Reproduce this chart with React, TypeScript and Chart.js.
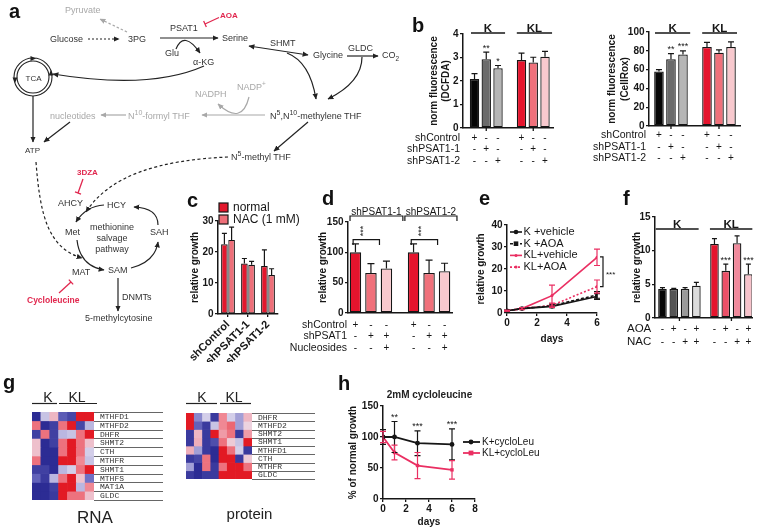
import React, { useEffect, useRef } from "react";
import { Chart, registerables } from "chart.js";

Chart.register(...registerables);

const FONT = "'Liberation Sans', Arial, Helvetica, sans-serif";
const MONO = "'Liberation Mono', 'DejaVu Sans Mono', monospace";
const INK = "#161616";
const PINK = "#ea2f62";
const INHIBIT = "#e1284f";
Chart.defaults.font.family = FONT;

/* ===================== DATA ===================== */
// b : ROS (DCFDA / CellRox)
const bRowNames = ["shControl", "shPSAT1-1", "shPSAT1-2"];
const bGroupNames = ["K", "KL"];
const bPositions = [0, 1, 2, 4, 5, 6];
const bSigns = [
  ["+", "-", "-"], ["-", "+", "-"], ["-", "-", "+"],
  ["+", "-", "-"], ["-", "+", "-"], ["-", "-", "+"],
];
const bColors = ["#060606", "#6b6b6b", "#b6b6b6", "#e5142d", "#f0717b", "#f8c9ce"];
const dcfdaValues = [2.09, 2.93, 2.54, 2.89, 2.79, 3.03];
const dcfdaErrors = [0.22, 0.3, 0.12, 0.3, 0.22, 0.23];
const dcfdaStars = ["", "**", "*", "", "", ""];
const dcfdaAxis = { min: 0, max: 4, step: 1 };
const cellroxValues = [58, 71, 76, 84, 78, 84];
const cellroxErrors = [2, 6, 4, 5, 3, 5.5];
const cellroxStars = ["", "**", "***", "", "", ""];
const cellroxAxis = { min: 0, max: 100, step: 20 };

// c : NAC rescue
const cCategories = ["shControl", "shPSAT1-1", "shPSAT1-2"];
const cSeriesNames = ["normal", "NAC (1 mM)"];
const cNormal = [22.5, 16.3, 15.5];
const cNormalErr = [3.5, 1.6, 5.2];
const cNAC = [23.9, 15.9, 12.6];
const cNACErr = [4.1, 1.1, 2.0];
const cColors = ["#e3172c", "#ee6f79"];
const cAxis = { min: 0, max: 30, step: 10 };

// d : nucleosides
const dRowNames = ["shControl", "shPSAT1", "Nucleosides"];
const dGroupNames = ["shPSAT1-1", "shPSAT1-2"];
const dPositions = [0, 1, 2, 3.75, 4.75, 5.75];
const dSigns = [
  ["+", "-", "-"], ["-", "+", "-"], ["-", "+", "+"],
  ["+", "-", "-"], ["-", "+", "-"], ["-", "+", "+"],
];
const dValues = [100, 66, 73.5, 100, 66, 69];
const dErrors = [14, 15.5, 12, 14, 21, 13];
const dColors = ["#e5142d", "#f0717b", "#f8c9ce", "#e5142d", "#f0717b", "#f8c9ce"];
const dAxis = { min: 0, max: 150, step: 50 };

// e : AOA growth
const eDays = [0, 1, 3, 6];
const eSeriesNames = ["K +vehicle", "K +AOA", "KL+vehicle", "KL+AOA"];
const eKVehicle = [1, 2, 3, 7.5];
const eKVehicleErr = [0.3, 0.4, 0.6, 1.3];
const eKAOA = [1, 2, 3.3, 8.2];
const eKAOAErr = [0.2, 0.3, 0.8, 1.5];
const eKLVehicle = [1, 2, 7.9, 25.3];
const eKLVehicleErr = [0.2, 0.5, 4.8, 3.7];
const eKLAOA = [1, 2, 3.5, 12];
const eKLAOAErr = [0.2, 0.4, 1, 3];
const eXAxis = { min: 0, max: 6, step: 2 };
const eYAxis = { min: 0, max: 40, step: 10 };

// f : AOA + NAC
const fRowNames = ["AOA", "NAC"];
const fGroupNames = ["K", "KL"];
const fPositions = [0, 1, 2, 3, 4.6, 5.6, 6.6, 7.6];
const fSigns = [["-", "-"], ["+", "-"], ["-", "+"], ["+", "+"], ["-", "-"], ["+", "-"], ["-", "+"], ["+", "+"]];
const fValues = [4.3, 4.3, 4.3, 4.8, 11, 7, 11.1, 6.5];
const fErrors = [0.2, 0.1, 0.2, 0.5, 0.8, 1, 1.1, 1.5];
const fStars = ["", "", "", "", "", "***", "", "***"];
const fColors = ["#060606", "#555555", "#9a9a9a", "#dcdcdc", "#e5142d", "#ec5068", "#f08a9c", "#f7c3cb"];
const fAxis = { min: 0, max: 15, step: 5 };

// g : heatmaps
const rnaGenes = ["MTHFD1", "MTHFD2", "DHFR", "SHMT2", "CTH", "MTHFR", "SHMT1", "MTHFS", "MAT1A", "GLDC"];
const rnaValues = [
  [-2, -0.3, 0.5, -1.3, -1.6, 2, 2],
  [1.2, -2, -1.7, 1.2, 2, -1.6, -0.4],
  [-1.7, 1.2, -1.7, -0.4, -0.3, 1.2, 2],
  [0.4, -2, -1.7, 1.2, 2, 1.2, 0.4],
  [0.4, -2, -2, 1.2, 2, 1.2, -0.2],
  [1.2, -2, -2, 2, 2, 1, -0.3],
  [-1.7, -1.7, -2, -0.4, -0.2, 1.2, 2],
  [-1.2, -1.8, -0.4, 1.2, 2, 0.4, -1],
  [-2, -2, -1.7, 2, 2, -0.4, 1],
  [-2, -2, -1.8, 2, 1.2, 1.2, 0.4],
];
const proteinGenes = ["DHFR", "MTHFD2", "SHMT2", "SHMT1", "MTHFD1", "CTH", "MTHFR", "GLDC"];
const proteinValues = [
  [2, -0.8, -0.2, -1.8, 1, -0.2, -0.6, 0.5],
  [2, -1.2, -1.8, -0.3, 1, 1.3, -0.6, 0.2],
  [-1.8, 0.5, -1.8, 2, 0.8, 1.2, -1.8, 0.8],
  [-1.8, 0.6, -1.8, -1.5, 1.2, 0.3, -0.3, 2],
  [0.6, -0.6, -1.8, -2, 2, 1.2, -0.2, -1.8],
  [-1.8, -1.6, 1.2, -2, 2, 2, -1.8, 0.3],
  [-0.6, -2, 1.2, -1.8, 1.2, 2, 2, 1.2],
  [-1.8, -2, -1.8, -1.8, 2, 2, 2, 2],
];

// h : cycloleucine
const hDays = [0, 1, 3, 6];
const hSeriesNames = ["K+cycloLeu", "KL+cycloLeu"];
const hK = [100, 100, 90, 88];
const hKErr = [12, 25, 20, 25];
const hKL = [100, 75, 54, 47];
const hKLErr = [9, 12, 21, 15];
const hStars = ["", "**", "***", "***"];
const hXAxis = { min: 0, max: 8, step: 2 };
const hYAxis = { min: 0, max: 150, step: 50 };

/* ===================== HELPERS ===================== */
type Geo = { L: number; T: number; W: number; H: number; px0: number; py0: number; px1: number; py1: number };

function geoLayout(g: Geo) {
  const left = g.px0 - g.L, top = g.py0 - g.T, right = g.px1 - g.L, bottom = g.py1 - g.T;
  return { padding: { left: 0, top, right: g.W - right, bottom: 0 }, yW: left, xH: g.H - bottom };
}

function baseOptions(padding: any) {
  return {
    responsive: false,
    animation: false,
    devicePixelRatio: 1,
    events: [],
    layout: { padding, autoPadding: false },
    plugins: { legend: { display: false }, tooltip: { enabled: false }, title: { display: false } },
  };
}

function yAxis(g: Geo, ax: any, title: any, titleAbsX: number, yW: number, lh = 12) {
  return {
    type: "linear",
    position: "left",
    min: ax.min,
    max: ax.max,
    bounds: "data",
    ticks: { stepSize: ax.step, font: { family: FONT, size: 10, weight: "bold" }, color: INK, padding: 1.5 },
    grid: { display: true, drawOnChartArea: false, drawTicks: true, tickLength: 3, color: INK, lineWidth: 1.3 },
    border: { display: true, color: INK, width: 1.5 },
    title: {
      display: true,
      text: title,
      color: INK,
      font: { family: FONT, size: 10, weight: "bold", lineHeight: lh / 10 },
      padding: { top: titleAbsX - g.L - lh / 2, bottom: 0 },
    },
    afterFit: (s: any) => { s.width = yW; },
  };
}

function xBarAxis(min: number, max: number, positions: number[], xH: number) {
  return {
    type: "linear",
    position: "bottom",
    min, max,
    bounds: "data",
    offset: false,
    afterBuildTicks: (s: any) => { s.ticks = positions.map((v) => ({ value: v })); },
    ticks: { display: false, autoSkip: false },
    grid: { display: false, drawTicks: false, tickLength: 0 },
    border: { display: true, color: INK, width: 1.5 },
    afterFit: (s: any) => { s.height = xH; },
  };
}

function xLinearAxis(g: Geo, ax: any, xH: number, titleAbsY: number) {
  const lh = 12;
  return {
    type: "linear",
    position: "bottom",
    min: ax.min, max: ax.max,
    bounds: "data",
    ticks: { stepSize: ax.step, font: { family: FONT, size: 10, weight: "bold" }, color: INK, padding: 1, maxRotation: 0 },
    grid: { display: true, drawOnChartArea: false, drawTicks: true, tickLength: 3, color: INK, lineWidth: 1.3 },
    border: { display: true, color: INK, width: 1.5 },
    title: {
      display: true, text: "days", color: INK,
      font: { family: FONT, size: 10, weight: "bold", lineHeight: lh / 10 },
      padding: { top: 0, bottom: g.H - (titleAbsY - g.T) - lh / 2 },
    },
    afterFit: (s: any) => { s.height = xH; },
  };
}

function txt(ctx: any, s: string, x: number, y: number, o: any = {}) {
  ctx.save();
  ctx.font = `${o.bold ? "bold " : ""}${o.size ?? 10}px ${o.family ?? FONT}`;
  ctx.fillStyle = o.color ?? INK;
  ctx.textAlign = o.align ?? "center";
  ctx.textBaseline = o.base ?? "middle";
  ctx.translate(x, y);
  if (o.rot) ctx.rotate(o.rot);
  ctx.fillText(s, 0, 0);
  ctx.restore();
}

function poly(ctx: any, pts: number[][], color = INK, w = 1.3, dash: number[] = []) {
  ctx.save();
  ctx.strokeStyle = color;
  ctx.lineWidth = w;
  ctx.setLineDash(dash);
  ctx.beginPath();
  pts.forEach((p, i) => (i ? ctx.lineTo(p[0], p[1]) : ctx.moveTo(p[0], p[1])));
  ctx.stroke();
  ctx.restore();
}

function marker(ctx: any, style: string, x: number, y: number, r: number, color: string) {
  ctx.save();
  ctx.fillStyle = color;
  ctx.beginPath();
  if (style === "rect") ctx.rect(x - r, y - r, 2 * r, 2 * r);
  else ctx.arc(x, y, r, 0, Math.PI * 2);
  ctx.fill();
  ctx.restore();
}

const extrasPlugin = (fn: (chart: any, ctx: any) => void) => ({
  id: "extras",
  afterDraw(chart: any) {
    const ctx = chart.ctx;
    ctx.save();
    fn(chart, ctx);
    ctx.restore();
  },
});

const errorBarsPlugin = {
  id: "errorBars",
  afterDatasetsDraw(chart: any) {
    const ctx = chart.ctx;
    chart.data.datasets.forEach((ds: any, di: number) => {
      if (!ds.errors) return;
      const meta = chart.getDatasetMeta(di);
      const ys = chart.scales[meta.yAxisID];
      ctx.save();
      ctx.strokeStyle = ds.errColor || INK;
      ctx.lineWidth = ds.errWidth || 1.2;
      meta.data.forEach((el: any, i: number) => {
        const e = ds.errors[i];
        if (!e) return;
        const raw = ds.data[i];
        const v = typeof raw === "object" ? raw.y : raw;
        const x = el.x;
        const top = ys.getPixelForValue(v + e);
        const bot = ys.getPixelForValue(ds.errBoth ? v - e : v);
        const cap = ds.errCap ?? 3;
        ctx.beginPath();
        ctx.moveTo(x, top);
        ctx.lineTo(x, bot);
        ctx.moveTo(x - cap, top);
        ctx.lineTo(x + cap, top);
        if (ds.errBoth) {
          ctx.moveTo(x - cap, bot);
          ctx.lineTo(x + cap, bot);
        }
        ctx.stroke();
      });
      ctx.restore();
    });
  },
};
Chart.register(errorBarsPlugin);

function drawGroups(chart: any, ctx: any, spans: number[][], names: string[], lineY: number) {
  const { chartArea: a, scales: { x } } = chart;
  spans.forEach(([s, e], i) => {
    const x0 = x.getPixelForValue(s), x1 = x.getPixelForValue(e);
    poly(ctx, [[x0, a.top + lineY], [x1, a.top + lineY]], INK, 1.5);
    txt(ctx, names[i], (x0 + x1) / 2, a.top + lineY - 1.5, { size: 11.5, bold: true, base: "alphabetic" });
  });
}

function drawStars(chart: any, ctx: any, positions: number[], values: number[], errors: number[], stars: string[]) {
  const { scales: { x, y } } = chart;
  positions.forEach((p, i) => {
    if (!stars[i]) return;
    txt(ctx, stars[i], x.getPixelForValue(p), y.getPixelForValue(values[i] + errors[i]) - 1.5, { size: 9, base: "alphabetic" });
  });
}

function drawTable(chart: any, ctx: any, rows: string[], signs: string[][], positions: number[], o: any) {
  const { chartArea: a, scales: { x } } = chart;
  rows.forEach((r, i) => {
    const yy = a.bottom + o.y0 + i * o.dy;
    txt(ctx, r, a.left + o.hx, yy, { size: o.size, align: o.align });
    positions.forEach((p, j) => txt(ctx, signs[j][i], x.getPixelForValue(p), yy, { size: 10 }));
  });
}

function groupTicks(chart: any, ctx: any, centers: number[]) {
  const { chartArea: a, scales: { x } } = chart;
  centers.forEach((c) => {
    const px = x.getPixelForValue(c);
    poly(ctx, [[px, a.bottom], [px, a.bottom + 3]], INK, 1.3);
  });
}

const heatStops: [number, number[]][] = [
  [-2, [44, 44, 148]],
  [-1, [112, 112, 196]],
  [0, [236, 230, 242]],
  [1, [240, 136, 148]],
  [2, [226, 26, 36]],
];
function heatColor(v: number) {
  const c = Math.max(-2, Math.min(2, v));
  for (let i = 0; i < heatStops.length - 1; i++) {
    const [a, ca] = heatStops[i];
    const [b, cb] = heatStops[i + 1];
    if (c <= b) {
      const t = (c - a) / (b - a);
      const m = ca.map((q, k) => Math.round(q + (cb[k] - q) * t));
      return `rgb(${m[0]},${m[1]},${m[2]})`;
    }
  }
  return "rgb(226,26,36)";
}

/* ===================== CHART CONFIGS ===================== */
function makeB(g: Geo, values: number[], errors: number[], stars: string[], ax: any, title: string[], titleX: number, lh: number, xmin: number, xmax: number, spans: number[][], lineY: number, rowY0: number) {
  const lay = geoLayout(g);
  return {
    type: "bar",
    data: {
      datasets: [{
        data: bPositions.map((x, i) => ({ x, y: values[i] })),
        backgroundColor: bColors,
        borderColor: INK,
        borderWidth: 1.3,
        borderSkipped: false,
        categoryPercentage: 0.8,
        barPercentage: 1,
        errors,
        errCap: 3,
      }],
    },
    options: {
      ...baseOptions(lay.padding),
      scales: { x: xBarAxis(xmin, xmax, bPositions, lay.xH), y: yAxis(g, ax, title, titleX, lay.yW, lh) },
    },
    plugins: [extrasPlugin((chart, ctx) => {
      drawGroups(chart, ctx, spans, bGroupNames, lineY);
      drawStars(chart, ctx, bPositions, values, errors, stars);
      drawTable(chart, ctx, bRowNames, bSigns, bPositions, { y0: rowY0, dy: 11.5, hx: -3, align: "right", size: 10.5 });
      groupTicks(chart, ctx, [1, 5]);
    })],
  };
}

const geoB1: Geo = { L: 400, T: 14, W: 160, H: 164, px0: 463, py0: 34, px1: 553, py1: 128 };
const geoB2: Geo = { L: 588, T: 12, W: 174, H: 164, px0: 649, py0: 32, px1: 740, py1: 126 };
const geoC: Geo = { L: 178, T: 190, W: 140, H: 172, px0: 218, py0: 221, px1: 278, py1: 314 };
const geoD: Geo = { L: 286, T: 195, W: 176, H: 160, px0: 348, py0: 222, px1: 452, py1: 313 };
const geoE: Geo = { L: 470, T: 200, W: 160, H: 150, px0: 507, py0: 225, px1: 597, py1: 313 };
const geoF: Geo = { L: 618, T: 195, W: 144, H: 155, px0: 655, py0: 217, px1: 752, py1: 318 };
const geoH: Geo = { L: 330, T: 385, W: 215, H: 146, px0: 383, py0: 406, px1: 475, py1: 499 };

function makeB1() {
  return makeB(geoB1, dcfdaValues, dcfdaErrors, dcfdaStars, dcfdaAxis, ["norm fluorescence", "(DCFDA)"], 434, 12, -0.98, 6.68, [[-0.3, 2.6], [3.6, 6.6]], -1, 10);
}
function makeB2() {
  return makeB(geoB2, cellroxValues, cellroxErrors, cellroxStars, cellroxAxis, ["norm fluorescence", "(CellRox)"], 612, 13, -0.83, 6.75, [[-0.33, 2.6], [3.6, 6.5]], 1, 9.5);
}

function makeC() {
  const g = geoC;
  const lay = geoLayout(g);
  const series = [cNormal, cNAC];
  const errs = [cNormalErr, cNACErr];
  return {
    type: "bar",
    data: {
      labels: cCategories,
      datasets: series.map((s, i) => ({
        label: cSeriesNames[i],
        data: s,
        errors: errs[i],
        errCap: 2.5,
        backgroundColor: cColors[i],
        borderColor: INK,
        borderWidth: 1.2,
        borderSkipped: false,
        categoryPercentage: 0.72,
        barPercentage: 0.92,
      })),
    },
    options: {
      ...baseOptions(lay.padding),
      scales: {
        x: {
          type: "category",
          offset: true,
          ticks: { font: { family: FONT, size: 11, weight: "bold" }, color: INK, minRotation: 45, maxRotation: 45, padding: 1, autoSkip: false },
          grid: { display: true, drawOnChartArea: false, offset: false, tickLength: 3, color: INK, lineWidth: 1.3 },
          border: { display: true, color: INK, width: 1.5 },
          afterFit: (s: any) => { s.height = lay.xH; },
        },
        y: yAxis(g, cAxis, "relative growth", 195, lay.yW),
      },
    },
    plugins: [extrasPlugin((chart, ctx) => {
      const a = chart.chartArea;
      [0, 1].forEach((i) => {
        const y0 = a.top - 18 + i * 12;
        ctx.fillStyle = cColors[i];
        ctx.fillRect(a.left + 1, y0, 9, 9);
        ctx.strokeStyle = INK;
        ctx.lineWidth = 1.2;
        ctx.strokeRect(a.left + 1, y0, 9, 9);
        txt(ctx, cSeriesNames[i], a.left + 15, y0 + 4.5, { size: 12, align: "left" });
      });
    })],
  };
}

function makeD() {
  const g = geoD;
  const lay = geoLayout(g);
  return {
    type: "bar",
    data: {
      datasets: [{
        data: dPositions.map((x, i) => ({ x, y: dValues[i] })),
        backgroundColor: dColors,
        borderColor: INK,
        borderWidth: 1.3,
        borderSkipped: false,
        categoryPercentage: 0.74,
        barPercentage: 1,
        errors: dErrors,
        errCap: 3.5,
      }],
    },
    options: {
      ...baseOptions(lay.padding),
      scales: { x: xBarAxis(-0.48, 6.23, dPositions, lay.xH), y: yAxis(g, dAxis, "relative growth", 323, lay.yW) },
    },
    plugins: [extrasPlugin((chart, ctx) => {
      const { chartArea: a, scales: { x, y } } = chart;
      const spans = [[-0.35, 3.06], [3.19, 6.55]];
      spans.forEach(([s, e], i) => {
        const x0 = x.getPixelForValue(s), x1 = x.getPixelForValue(e);
        poly(ctx, [[x0, a.top - 1], [x0, a.top - 6], [x1, a.top - 6], [x1, a.top - 1]], INK, 1.2);
        txt(ctx, dGroupNames[i], (x0 + x1) / 2, a.top - 7.5, { size: 10, base: "alphabetic" });
      });
      [0, 3].forEach((k) => {
        const p0 = dPositions[k];
        const xl = x.getPixelForValue(p0 - 0.15), xr = x.getPixelForValue(p0 + 1.55);
        const yt = y.getPixelForValue(121), yd = y.getPixelForValue(112);
        poly(ctx, [[xl, yd], [xl, yt], [xr, yt], [xr, yd]], INK, 1.2);
        txt(ctx, "***", x.getPixelForValue(p0 + 0.5), yt - 8.5, { size: 9, rot: -Math.PI / 2 });
      });
      drawTable(chart, ctx, dRowNames, dSigns, dPositions, { y0: 12, dy: 11.5, hx: -1, align: "right", size: 10.5 });
    })],
  };
}

function lineDs(values: number[], errors: number[], color: string, dash: number[], style: string, r: number, w: number) {
  return {
    data: eDays.map((d, i) => ({ x: d, y: values[i] })),
    errors,
    errBoth: true,
    errColor: color,
    errCap: 3,
    borderColor: color,
    backgroundColor: color,
    borderWidth: w,
    borderDash: dash,
    pointStyle: style,
    pointRadius: r,
    pointBorderWidth: 0,
    tension: 0,
    fill: false,
  };
}

function makeE() {
  const g = geoE;
  const lay = geoLayout(g);
  const series = [
    { v: eKVehicle, e: eKVehicleErr, c: INK, d: [], s: "circle", r: 2.3 },
    { v: eKAOA, e: eKAOAErr, c: INK, d: [3, 2], s: "rect", r: 2.3 },
    { v: eKLVehicle, e: eKLVehicleErr, c: PINK, d: [], s: "circle", r: 1.5 },
    { v: eKLAOA, e: eKLAOAErr, c: PINK, d: [2, 2], s: "circle", r: 1.5 },
  ];
  return {
    type: "line",
    data: { datasets: series.map((q) => lineDs(q.v, q.e, q.c, q.d, q.s, q.r, 1.6)) },
    options: {
      ...baseOptions(lay.padding),
      scales: { x: xLinearAxis(g, eXAxis, lay.xH, 339), y: yAxis(g, eYAxis, "relative growth", 481, lay.yW) },
    },
    plugins: [extrasPlugin((chart, ctx) => {
      const { chartArea: a, scales: { y } } = chart;
      series.forEach((q, i) => {
        const yy = a.top + 7 + i * 11.7;
        poly(ctx, [[a.left + 3, yy], [a.left + 15, yy]], q.c, 1.6, q.d);
        marker(ctx, q.s, a.left + 9, yy, q.r, q.c);
        txt(ctx, eSeriesNames[i], a.left + 16.5, yy, { size: 11, align: "left" });
      });
      const bx = a.right + 6;
      const y0 = y.getPixelForValue(25.5), y1 = y.getPixelForValue(12);
      poly(ctx, [[bx - 3, y0], [bx, y0], [bx, y1], [bx - 3, y1]], INK, 1.2);
      txt(ctx, "***", bx + 3, (y0 + y1) / 2 + 3, { size: 8, align: "left" });
    })],
  };
}

function makeF() {
  const g = geoF;
  const lay = geoLayout(g);
  return {
    type: "bar",
    data: {
      datasets: [{
        data: fPositions.map((x, i) => ({ x, y: fValues[i] })),
        backgroundColor: fColors,
        borderColor: INK,
        borderWidth: 1.3,
        borderSkipped: false,
        categoryPercentage: 0.76,
        barPercentage: 1,
        errors: fErrors,
        errCap: 2.5,
      }],
    },
    options: {
      ...baseOptions(lay.padding),
      scales: { x: xBarAxis(-0.66, 7.92, fPositions, lay.xH), y: yAxis(g, fAxis, "relative growth", 637, lay.yW) },
    },
    plugins: [extrasPlugin((chart, ctx) => {
      drawGroups(chart, ctx, [[-0.6, 3.2], [4.2, 7.95]], fGroupNames, 12);
      drawStars(chart, ctx, fPositions, fValues, fErrors, fStars);
      drawTable(chart, ctx, fRowNames, fSigns, fPositions, { y0: 11, dy: 13, hx: -28, align: "left", size: 11.5 });
      groupTicks(chart, ctx, [1.5, 6.1]);
    })],
  };
}

function makeH() {
  const g = geoH;
  const lay = geoLayout(g);
  const series = [
    { v: hK, e: hKErr, c: INK, s: "circle" },
    { v: hKL, e: hKLErr, c: PINK, s: "rect" },
  ];
  return {
    type: "line",
    data: { datasets: series.map((q) => ({ ...lineDs(q.v, q.e, q.c, [], q.s, 2.4, 1.8), data: hDays.map((d, i) => ({ x: d, y: q.v[i] })) })) },
    options: {
      ...baseOptions(lay.padding),
      scales: { x: xLinearAxis(g, hXAxis, lay.xH, 522), y: yAxis(g, hYAxis, "% of normal growth", 353, lay.yW) },
    },
    plugins: [extrasPlugin((chart, ctx) => {
      const { chartArea: a, scales: { x, y } } = chart;
      hDays.forEach((d, i) => {
        if (!hStars[i]) return;
        const top = Math.max(hK[i] + hKErr[i], hKL[i] + hKLErr[i]);
        txt(ctx, hStars[i], x.getPixelForValue(d), y.getPixelForValue(top) - 1.5, { size: 9, base: "alphabetic" });
      });
      series.forEach((q, i) => {
        const yy = a.top + 36 + i * 11;
        poly(ctx, [[a.right - 12, yy], [a.right + 5, yy]], q.c, 1.8);
        marker(ctx, q.s, a.right - 4, yy, 2.4, q.c);
        txt(ctx, hSeriesNames[i], a.right + 7, yy, { size: 10, align: "left" });
      });
    })],
  };
}

function makeHeat(genes: string[], grid: number[][], padding: any, lineLen: number) {
  const cols = grid[0].map((_, i) => String(i + 1));
  return {
    type: "bar",
    data: {
      labels: cols,
      datasets: genes.map((gname, r) => ({
        label: gname,
        data: cols.map(() => 1),
        backgroundColor: grid[r].map(heatColor),
        borderWidth: 0,
        barPercentage: 1,
        categoryPercentage: 1,
      })),
    },
    options: {
      ...baseOptions(padding),
      scales: {
        x: { type: "category", stacked: true, display: false },
        y: { type: "linear", stacked: true, display: false, min: 0, max: genes.length, reverse: true },
      },
    },
    plugins: [extrasPlugin((chart, ctx) => {
      const { chartArea: a, scales: { y } } = chart;
      for (let r = 0; r <= genes.length; r++) {
        const yy = Math.round(y.getPixelForValue(r)) + 0.5;
        poly(ctx, [[a.right, yy], [a.right + lineLen, yy]], "#555", 0.9);
      }
      genes.forEach((gname, r) => {
        txt(ctx, gname, a.right + 6, y.getPixelForValue(r + 0.55), { size: 8, align: "left", family: MONO, color: "#333" });
      });
    })],
  };
}

function makeRNA() {
  return makeHeat(rnaGenes, rnaValues, { left: 12, top: 7, right: 86, bottom: 5 }, 69);
}
function makeProtein() {
  return makeHeat(proteinGenes, proteinValues, { left: 10, top: 8, right: 74, bottom: 6 }, 63);
}

/* ===================== COMPONENTS ===================== */
function ChartCanvas({ box, make }: { box: number[]; make: () => any }) {
  const ref = useRef<HTMLCanvasElement>(null);
  useEffect(() => {
    const chart = new Chart(ref.current as any, make() as any);
    return () => chart.destroy();
  }, []);
  const [L, T, W, H] = box;
  return <canvas ref={ref} width={W} height={H} style={{ position: "absolute", left: L, top: T, width: W, height: H }} />;
}

function Inhib({ x1, y1, x2, y2 }: any) {
  const dx = x2 - x1, dy = y2 - y1, len = Math.hypot(dx, dy);
  const nx = (-dy / len) * 3.2, ny = (dx / len) * 3.2;
  return (
    <g stroke={INHIBIT} strokeWidth={1.3}>
      <line x1={x1} y1={y1} x2={x2} y2={y2} />
      <line x1={x2 - nx} y1={y2 - ny} x2={x2 + nx} y2={y2 + ny} />
    </g>
  );
}

function Tri({ x, y, a }: any) {
  const r = (a * Math.PI) / 180;
  const p = (d: number, s: number) => [x + Math.cos(r) * d - Math.sin(r) * s, y + Math.sin(r) * d + Math.cos(r) * s];
  const pts = [p(3, 0), p(-2.5, -2.5), p(-2.5, 2.5)].map((q) => q.join(",")).join(" ");
  return <polygon points={pts} fill="#222" />;
}

function Overlay() {
  const k = "#222", gr = "#a8a8a8";
  const sw = 1.2;
  const line = (x1: number, y1: number, x2: number, y2: number, o: any = {}) => (
    <line x1={x1} y1={y1} x2={x2} y2={y2} stroke={o.c ?? k} strokeWidth={sw} strokeDasharray={o.d} markerStart={o.ms} markerEnd={o.me ?? "url(#ah)"} />
  );
  const path = (d: string, o: any = {}) => (
    <path d={d} fill="none" stroke={o.c ?? k} strokeWidth={sw} strokeDasharray={o.d} markerEnd={o.me ?? "url(#ah)"} />
  );
  return (
    <svg width={762} height={531} style={{ position: "absolute", left: 0, top: 0, pointerEvents: "none" }}>
      <defs>
        <marker id="ah" viewBox="0 0 10 10" refX="9" refY="5" markerWidth="6" markerHeight="6" markerUnits="userSpaceOnUse" orient="auto-start-reverse">
          <path d="M0,0.5 L10,5 L0,9.5 z" fill={k} />
        </marker>
        <marker id="ahg" viewBox="0 0 10 10" refX="9" refY="5" markerWidth="6" markerHeight="6" markerUnits="userSpaceOnUse" orient="auto-start-reverse">
          <path d="M0,0.5 L10,5 L0,9.5 z" fill={gr} />
        </marker>
      </defs>

      {/* panel letters */}
      <g fontFamily={FONT} fontWeight="bold" fontSize={20} fill="#111">
        <text x={9} y={18}>a</text>
        <text x={412} y={32}>b</text>
        <text x={187} y={207}>c</text>
        <text x={322} y={205}>d</text>
        <text x={479} y={205}>e</text>
        <text x={623} y={205}>f</text>
        <text x={3} y={389}>g</text>
        <text x={338} y={390}>h</text>
      </g>

      {/* pathway arrows */}
      {line(88, 39, 119, 39, { d: "2 2" })}
      {line(160, 38, 218, 38)}
      {path("M176,49 Q184,30 200,53")}
      {line(127, 32, 100, 19, { c: gr, d: "2.5 2", me: "url(#ahg)" })}
      <Inhib x1={219} y1={17.5} x2={205} y2={24} />
      {line(249, 46, 308, 55, { ms: "url(#ah)" })}
      {path("M287,53 Q310,62 316,99")}
      {path("M362,57 Q362,82 328,99")}
      {line(347, 56, 378, 56)}
      {path("M204,66 Q150,90 53,74")}
      <circle cx={33} cy={77} r={19} fill="none" stroke={k} strokeWidth={1.1} />
      <circle cx={33} cy={77} r={16} fill="none" stroke={k} strokeWidth={1.1} />
      <Tri x={33} y={58.5} a={0} />
      <Tri x={15} y={80} a={90} />
      <Tri x={51} y={73} a={-90} />
      {line(33, 96, 33, 142)}
      {line(70, 122, 44, 142)}
      {line(265, 115, 202, 115, { c: gr, me: "url(#ahg)" })}
      {path("M249,97 Q242,126 218,104", { c: gr, me: "url(#ahg)" })}
      {line(126, 115, 101, 115, { c: gr, me: "url(#ahg)" })}
      {line(308, 122, 274, 151)}
      {path("M228,157 C160,160 110,175 86,212", { d: "3 2.5" })}
      {path("M36,162 C40,215 48,248 82,258", { d: "3 2.5" })}
      <Inhib x1={83} y1={179} x2={78} y2={193} />
      {path("M104,205 Q86,206 76,222")}
      {path("M158,225 Q158,208 134,207")}
      {path("M131,268 Q155,262 158,242")}
      {path("M77,240 Q80,266 104,270")}
      <Inhib x1={59} y1={293} x2={71} y2={282} />
      {line(118, 278, 118, 311)}

      {/* pathway text */}
      <g fontFamily={FONT} fontSize={9} fill="#333">
        <text x={65} y={13} fill={gr}>Pyruvate</text>
        <text x={220} y={18} fill={INHIBIT} fontWeight="bold" fontSize={8}>AOA</text>
        <text x={170} y={31}>PSAT1</text>
        <text x={50} y={42}>Glucose</text>
        <text x={128} y={42}>3PG</text>
        <text x={222} y={41}>Serine</text>
        <text x={165} y={56}>Glu</text>
        <text x={193} y={65}>α-KG</text>
        <text x={270} y={46}>SHMT</text>
        <text x={313} y={58}>Glycine</text>
        <text x={348} y={51}>GLDC</text>
        <text x={382} y={58}>CO<tspan dy={3} fontSize={6.5}>2</tspan></text>
        <text x={33.5} y={80.5} textAnchor="middle" fontSize={8}>TCA</text>
        <text x={195} y={97} fill={gr}>NADPH</text>
        <text x={237} y={90} fill={gr}>NADP<tspan dy={-4} fontSize={6.5}>+</tspan></text>
        <text x={50} y={119} fill={gr}>nucleotides</text>
        <text x={128} y={119} fill={gr}>N<tspan dy={-4} fontSize={7}>10</tspan><tspan dy={4}>-formyl THF</tspan></text>
        <text x={270} y={119}>N<tspan dy={-4} fontSize={7}>5</tspan><tspan dy={4}>,N</tspan><tspan dy={-4} fontSize={7}>10</tspan><tspan dy={4}>-methylene THF</tspan></text>
        <text x={25} y={153} fontSize={8}>ATP</text>
        <text x={231} y={160}>N<tspan dy={-4} fontSize={7}>5</tspan><tspan dy={4}>-methyl THF</tspan></text>
        <text x={77} y={175} fill={INHIBIT} fontWeight="bold" fontSize={8}>3DZA</text>
        <text x={58} y={206}>AHCY</text>
        <text x={107} y={208}>HCY</text>
        <text x={65} y={235}>Met</text>
        <text x={112} y={230} textAnchor="middle">methionine</text>
        <text x={112} y={241} textAnchor="middle">salvage</text>
        <text x={112} y={252} textAnchor="middle">pathway</text>
        <text x={150} y={235}>SAH</text>
        <text x={108} y={273}>SAM</text>
        <text x={72} y={275}>MAT</text>
        <text x={27} y={303} fill={INHIBIT} fontWeight="bold" fontSize={8.5}>Cycloleucine</text>
        <text x={122} y={300}>DNMTs</text>
        <text x={85} y={321}>5-methylcytosine</text>
      </g>

      {/* heatmap headers and captions */}
      <g fontFamily={FONT} fill="#222">
        <text x={48} y={402} fontSize={14} textAnchor="middle">K</text>
        <text x={77} y={402} fontSize={14} textAnchor="middle">KL</text>
        <line x1={32} y1={403.5} x2={57} y2={403.5} stroke="#222" strokeWidth={1.2} />
        <line x1={59} y1={403.5} x2={97} y2={403.5} stroke="#222" strokeWidth={1.2} />
        <text x={202} y={402} fontSize={14} textAnchor="middle">K</text>
        <text x={234} y={402} fontSize={14} textAnchor="middle">KL</text>
        <line x1={186} y1={403.5} x2={217} y2={403.5} stroke="#222" strokeWidth={1.2} />
        <line x1={220} y1={403.5} x2={251} y2={403.5} stroke="#222" strokeWidth={1.2} />
        <text x={95} y={523} fontSize={17} textAnchor="middle">RNA</text>
        <text x={249.5} y={518.5} fontSize={15} textAnchor="middle">protein</text>
        <text x={429.5} y={397.5} fontSize={10} fontWeight="bold" textAnchor="middle">2mM cycloleucine</text>
      </g>
    </svg>
  );
}

export default function App() {
  const box = (g: Geo) => [g.L, g.T, g.W, g.H];
  return (
    <div style={{ position: "absolute", left: 0, top: 0, width: 762, height: 531, background: "#fff", overflow: "hidden" }}>
      <ChartCanvas box={box(geoB1)} make={makeB1} />
      <ChartCanvas box={box(geoB2)} make={makeB2} />
      <ChartCanvas box={box(geoC)} make={makeC} />
      <ChartCanvas box={box(geoD)} make={makeD} />
      <ChartCanvas box={box(geoE)} make={makeE} />
      <ChartCanvas box={box(geoF)} make={makeF} />
      <ChartCanvas box={box(geoH)} make={makeH} />
      <ChartCanvas box={[20, 405, 160, 100]} make={makeRNA} />
      <ChartCanvas box={[176, 405, 150, 80]} make={makeProtein} />
      <Overlay />
    </div>
  );
}
